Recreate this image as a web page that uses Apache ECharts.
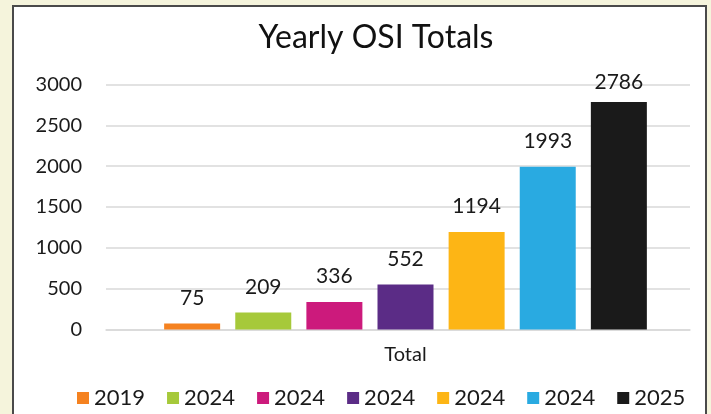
<!DOCTYPE html>
<html>
<head>
<meta charset="utf-8">
<script src="https://cdn.jsdelivr.net/npm/echarts@6/dist/echarts.min.js"></script>
<style>
  html, body { margin: 0; padding: 0; width: 711px; height: 414px; overflow: hidden; background: #f5f4dc; }
  #panel { position: absolute; left: 12px; top: 5px; width: 691px; height: 430px; background: #ffffff; border: 2px solid #4a4a4a; }
  #chart { position: absolute; left: 0; top: 0; width: 711px; height: 414px; }
</style>
</head>
<body>
<div id="panel"></div>
<div id="chart"></div>
<script>
const titleText = 'Yearly OSI Totals';
const categories = ['Total'];
const seriesLabels = ['2019', '2024', '2024', '2024', '2024', '2024', '2025'];
const values = [75, 209, 336, 552, 1194, 1993, 2786];
const seriesColors = ['#f58220', '#a6c93a', '#cc1a7c', '#5b2c86', '#fdb515', '#29aae1', '#1a1a1a'];
const yMin = 0, yMax = 3000, yInterval = 500;

const FONT = 'Lato';
const ids = seriesLabels.map((l, i) => 's' + i);

const series = values.map((v, i) => ({
  name: ids[i],
  type: 'bar',
  xAxisIndex: 1,
  yAxisIndex: 1,
  data: [v],
  barWidth: 56,
  barGap: '27%',
  itemStyle: { color: seriesColors[i] },
  label: {
    show: true,
    position: 'top',
    distance: i === values.length - 1 ? 9 : 15,
    fontFamily: FONT,
    fontSize: 21,
    color: '#1a1a1a'
  }
}));

const chart = echarts.init(document.getElementById('chart'), null, { renderer: 'canvas' });
chart.setOption({
  backgroundColor: 'transparent',
  animation: false,
  title: {
    text: titleText,
    left: 371, top: 17,
    textAlign: 'center',
    textStyle: { fontFamily: FONT, fontSize: 32, fontWeight: 'normal', color: '#111' }
  },
  legend: {
    data: ids,
    left: 72, top: 382,
    icon: 'rect',
    itemWidth: 12, itemHeight: 12,
    itemGap: 22,
    formatter: name => seriesLabels[ids.indexOf(name)],
    textStyle: { fontFamily: FONT, fontSize: 22, color: '#1a1a1a' }
  },
  grid: [
    { left: 106, right: 21, top: 84.5, bottom: 84.5 },
    { left: 121, right: 21, top: 84.5, bottom: 84.5 }
  ],
  xAxis: [
    { type: 'category', gridIndex: 0, data: categories,
      axisLine: { show: true, lineStyle: { color: '#d9d9d9', width: 1.5 } },
      axisTick: { show: false }, axisLabel: { show: false } },
    { type: 'category', gridIndex: 1, data: categories,
      axisLine: { show: false }, axisTick: { show: false },
      axisLabel: { show: true, margin: 15, fontFamily: FONT, fontSize: 20, color: '#1a1a1a' } }
  ],
  yAxis: [
    { type: 'value', gridIndex: 0, min: yMin, max: yMax, interval: yInterval,
      axisLine: { show: false }, axisTick: { show: false },
      axisLabel: { margin: 24, fontFamily: FONT, fontSize: 20, color: '#1a1a1a', formatter: v => String(v) },
      splitLine: { lineStyle: { color: '#d9d9d9', width: 1.5 } } },
    { type: 'value', gridIndex: 1, min: yMin, max: yMax, interval: yInterval, show: false,
      splitLine: { show: false } }
  ],
  series: series
});
</script>
</body>
</html>
